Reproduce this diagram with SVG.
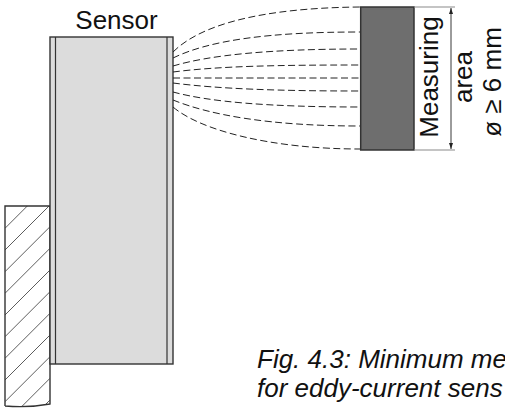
<svg xmlns="http://www.w3.org/2000/svg" width="505" height="408" viewBox="0 0 505 408">
<style>
.t{font-family:"Liberation Sans",Arial,sans-serif;fill:#111}
.fl{fill:none;stroke:#222;stroke-width:1;stroke-dasharray:7 3.5}
.body{fill:#dcdcdc;stroke:#333;stroke-width:1.4}
.ext{stroke:#8a8a8a;stroke-width:1.2;fill:none}
.hatch{stroke:#333;stroke-width:0.8}
</style>
<defs>
<marker id="ah" viewBox="0 0 6 6" refX="6" refY="3" markerWidth="6" markerHeight="6" orient="auto-start-reverse" markerUnits="userSpaceOnUse">
<path d="M0,1 L6,3 L0,5 Z" fill="#222"/>
</marker>
<clipPath id="wc"><path d="M5,206 H50 V404 Q28,408 5,406 Z"/></clipPath>
</defs>
<rect width="505" height="408" fill="#fff"/>

<g id="wall">
<g clip-path="url(#wc)" class="hatch">
<line x1="5" y1="228.3" x2="50" y2="183.3"/>
<line x1="5" y1="250" x2="50" y2="205"/>
<line x1="5" y1="271.7" x2="50" y2="226.7"/>
<line x1="5" y1="293.3" x2="50" y2="248.3"/>
<line x1="5" y1="315" x2="50" y2="270"/>
<line x1="5" y1="336.7" x2="50" y2="291.7"/>
<line x1="5" y1="358.3" x2="50" y2="313.3"/>
<line x1="5" y1="380" x2="50" y2="335"/>
<line x1="5" y1="401.7" x2="50" y2="356.7"/>
<line x1="5" y1="423.3" x2="50" y2="378.3"/>
<line x1="5" y1="445" x2="50" y2="400"/>
</g>
<path d="M5,406 V206 H50 V404 Q28,408 5,406" fill="none" stroke="#333" stroke-width="1.4"/>
</g>

<g id="sensor">
<rect class="body" x="50" y="37" width="123" height="327"/>
<line x1="55.5" y1="37" x2="55.5" y2="364" stroke="#333" stroke-width="1.2"/>
<line x1="167" y1="37" x2="167" y2="364" stroke="#333" stroke-width="1.2"/>
<text class="t" x="116.5" y="29" font-size="26" text-anchor="middle">Sensor</text>
</g>

<g id="connectors">
<path class="fl" d="M173,52 C200,25 260,8 360,7"/>
<path class="fl" d="M173,58 C210,40 270,32 360,32"/>
<path class="fl" d="M173,66 C210,55 270,49 360,49"/>
<path class="fl" d="M173,72 C220,66 280,65 360,65"/>
<path class="fl" d="M173,78 L360,78"/>
<path class="fl" d="M173,83 C220,89 280,91 360,91"/>
<path class="fl" d="M173,92 C210,102 270,107 360,107"/>
<path class="fl" d="M173,100 C210,115 270,126 360,126"/>
<path class="fl" d="M173,107 C200,130 270,149 360,149"/>
</g>

<g id="target">
<rect x="360.7" y="7" width="53.3" height="143" fill="#6e6e6e" stroke="#333" stroke-width="1.5"/>
<text class="t" font-size="26" text-anchor="middle" transform="translate(437.5,77) rotate(-90)">Measuring</text>
</g>

<g id="dimension">
<line class="ext" x1="414" y1="7" x2="455" y2="7"/>
<line class="ext" x1="414" y1="150" x2="455" y2="150"/>
<line x1="451" y1="8" x2="451" y2="149" stroke="#222" stroke-width="0.9" marker-start="url(#ah)" marker-end="url(#ah)"/>
<text class="t" font-size="26" text-anchor="middle" transform="translate(472,77) rotate(-90)">area</text>
<text class="t" font-size="26" text-anchor="middle" transform="translate(500.5,82) rotate(-90)">ø ≥ 6 mm</text>
</g>

<g id="caption">
<text class="t" font-size="26" font-style="italic" x="257" y="368">Fig. 4.3: Minimum me</text>
<text class="t" font-size="26" font-style="italic" x="257" y="397">for eddy-current sens</text>
</g>
</svg>
